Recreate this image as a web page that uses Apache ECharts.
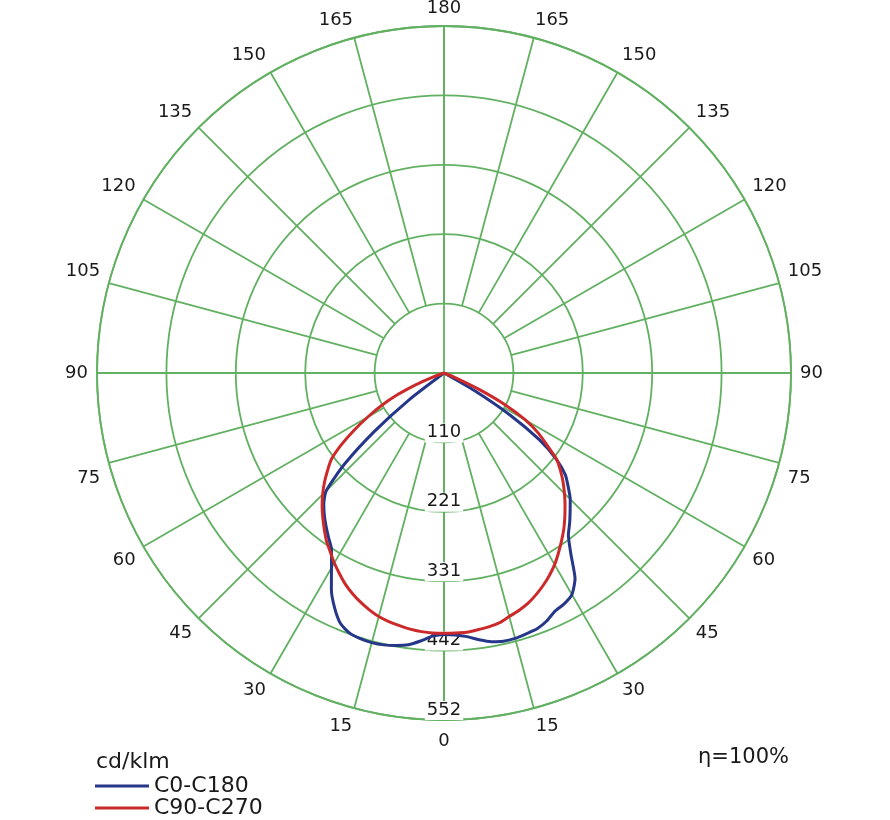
<!DOCTYPE html>
<html>
<head>
<meta charset="utf-8">
<script src="https://cdn.jsdelivr.net/npm/echarts@6/dist/echarts.min.js"></script>
<style>html,body{margin:0;padding:0;background:#fff}#c{width:890px;height:820px}</style>
</head>
<body>
<div id="c"></div>
<script>
// gamma angles from nadir (deg)
const gammaAngles = [0,2.5,5,7.5,10,12.5,15,17.5,20,22.5,25,27.5,30,32.5,35,37.5,40,42.5,45,47.5,50,52.5,55,57.5,60,62.5,65,67.5,70,72.5,75,80,85,90];
// C0-C180 (blue): left half and right half, cd/klm
const c0c180Left  = [416,419,428,436,440,443,444,443,440,431,412,388,358,333,320,308,296,283,265,215,145,70,0,0,0,0,0,0,0,0,0,0,0,0];
const c0c180Right = [416,417,421,428,434,437,437,435,433,427,418,414,407,388,352,325,311,297,284,268,252,225,185,125,55,0,0,0,0,0,0,0,0,0];
// C90-C270 (red)
const c90c270Left  = [414,414,413,411,408,405,401,395,388,380,371,360,349,337,326,313,300,287,273,258,242,226,200,170,140,112,82,48,20,0,0,0,0,0];
const c90c270Right = [414,414,414,412,410,407,401,396,390,382,373,363,352,339,326,313,299,285,271,257,242,226,200,178,150,110,60,20,0,0,0,0,0,0];

const seriesNames = ['C0-C180','C90-C270'];
const ringLabels = ['110','221','331','442','552'];
const ringMax = 552;
const ringStep = 110.4;
const angleLabels = ['0','15','30','45','60','75','90','105','120','135','150','165','180'];
const unitText = 'cd/klm';
const effText = 'η=100%';

const GREEN = '#62b062';
const GW = 1.8;
const FONT = 'DejaVu Sans';
const TXT = '#1a1a1a';
const CX = 444, CY = 373, R = 347;

function buildCurve(left, right) {
  const pts = [];
  for (let i = gammaAngles.length - 1; i >= 0; i--) pts.push([right[i], 360 - gammaAngles[i]]);
  for (let i = 0; i < gammaAngles.length; i++) pts.push([left[i], gammaAngles[i]]);
  return pts;
}

function angleFmt(v) {
  if (v >= 360) return '';
  const lab = angleLabels[Math.round((v <= 180 ? v : 360 - v) / 15)];
  const left = v <= 180;
  if (v === 15 || v === 345) return '{' + (left ? 'sl1' : 'sr1') + '|' + lab + '}';
  if (v === 165 || v === 195) return '{' + (left ? 'sl2' : 'sr2') + '|' + lab + '}';
  if (v === 75 || v === 285) return '{dn|' + lab + '}';
  if (v === 105 || v === 255) return '{up|' + lab + '}';
  if (v === 0) return '{z|' + lab + '}';
  return '{n|' + lab + '}';
}
const base = {fontSize: 18, fontFamily: FONT, color: TXT};

const chart = echarts.init(document.getElementById('c'), null, {renderer: 'canvas'});
chart.setOption({
  backgroundColor: '#fff',
  animation: false,
  title: [
    {text: unitText, left: 96, top: 751, padding: 0, textStyle: {fontSize: 22, fontWeight: 'normal', fontFamily: FONT, color: TXT}},
    {text: effText, left: 698, top: 747, padding: 0, textStyle: {fontSize: 21, fontWeight: 'normal', fontFamily: FONT, color: TXT}}
  ],
  legend: {
    data: seriesNames, orient: 'vertical', left: 95, top: 775, padding: 0,
    icon: 'rect', itemWidth: 54, itemHeight: 3, itemGap: 0,
    textStyle: {fontSize: 22, lineHeight: 22, fontFamily: FONT, color: TXT}
  },
  polar: [
    {center: [CX, CY], radius: [R * ringStep / ringMax, R]},
    {center: [CX, CY], radius: [0, R]}
  ],
  angleAxis: [
    {
      polarIndex: 0, type: 'value', min: 0, max: 360, interval: 15, startAngle: 270, clockwise: true,
      axisLine: {show: false}, axisTick: {show: false},
      splitLine: {show: true, lineStyle: {color: GREEN, width: GW}},
      axisLabel: {
        show: true, margin: 9, formatter: angleFmt,
        rich: {
          n: Object.assign({}, base),
          z: Object.assign({padding: [3, 0, 0, 0]}, base),
          sl1: Object.assign({padding: [0, 22, 0, 0]}, base),
          sr1: Object.assign({padding: [0, 0, 0, 22]}, base),
          sl2: Object.assign({padding: [0, 32, 0, 0]}, base),
          sr2: Object.assign({padding: [0, 0, 0, 32]}, base),
          dn: Object.assign({padding: [26, 0, 0, 0]}, base),
          up: Object.assign({padding: [0, 0, 20, 0]}, base)
        }
      }
    },
    {
      polarIndex: 1, type: 'value', min: 0, max: 360, interval: 90, startAngle: 270, clockwise: true,
      axisLine: {show: true, lineStyle: {color: GREEN, width: GW}},
      axisTick: {show: false}, axisLabel: {show: false},
      splitLine: {show: true, lineStyle: {color: GREEN, width: GW}}
    }
  ],
  radiusAxis: [
    {polarIndex: 0, type: 'value', min: 0, max: 1, show: false},
    {
      polarIndex: 1, type: 'value', min: 0, max: ringMax, interval: ringStep, z: 1,
      axisLine: {show: false}, axisTick: {show: false},
      splitLine: {show: true, lineStyle: {color: GREEN, width: GW}},
      axisLabel: {
        show: true, margin: 0, align: 'center', verticalAlign: 'bottom',
        backgroundColor: '#fff', padding: [0, 2, 1, 2],
        fontSize: 18, fontFamily: FONT, color: TXT,
        formatter: function (v) {
          const k = Math.round(v / ringStep);
          return k >= 1 ? ringLabels[k - 1] : '';
        }
      }
    }
  ],
  series: [
    {
      name: seriesNames[0], type: 'line', coordinateSystem: 'polar', polarIndex: 1,
      symbol: 'none', smooth: 0.2, z: 3, lineStyle: {color: '#26378a', width: 3}, itemStyle: {color: '#26378a'},
      data: buildCurve(c0c180Left, c0c180Right)
    },
    {
      name: seriesNames[1], type: 'line', coordinateSystem: 'polar', polarIndex: 1,
      symbol: 'none', smooth: 0.2, z: 4, lineStyle: {color: '#cc2a2a', width: 3}, itemStyle: {color: '#cc2a2a'},
      data: buildCurve(c90c270Left, c90c270Right)
    }
  ]
});
</script>
</body>
</html>
